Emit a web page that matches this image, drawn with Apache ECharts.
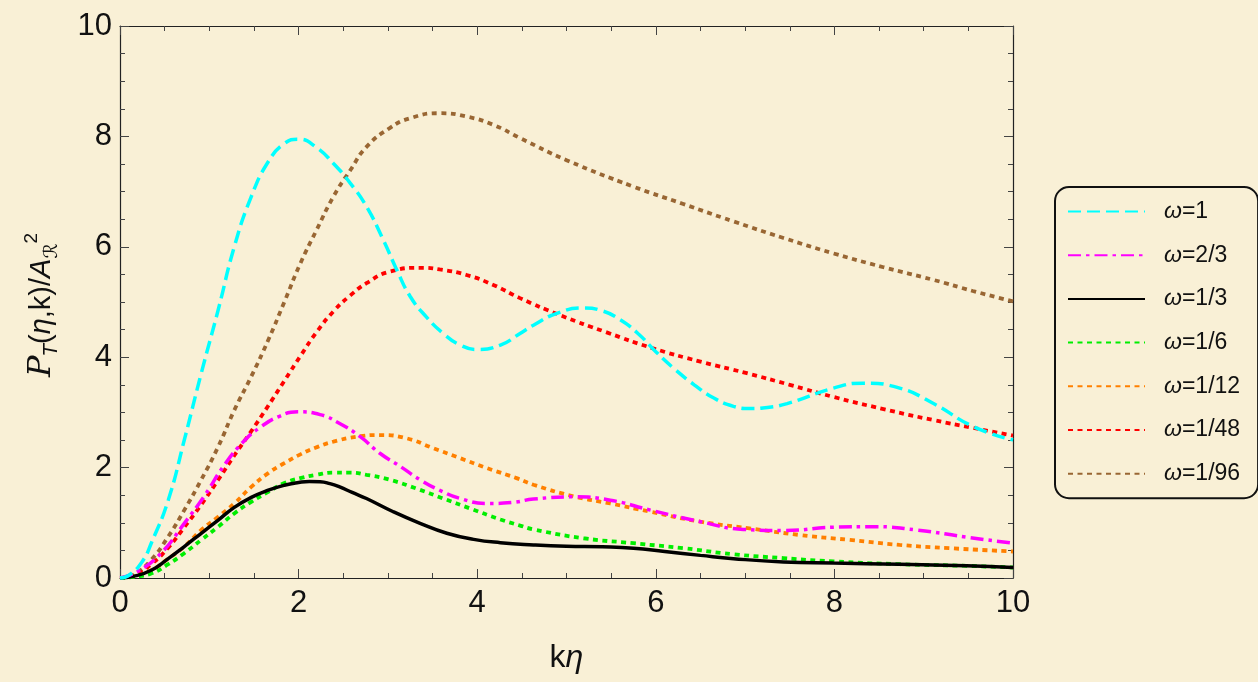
<!DOCTYPE html>
<html>
<head>
<meta charset="utf-8">
<script src="https://cdn.jsdelivr.net/npm/echarts@6/dist/echarts.min.js"></script>
<style>
html,body{margin:0;padding:0;background:#f9f0d6;}
#c{width:1258px;height:682px;}
</style>
</head>
<body>
<div id="c"></div>
<script>
// Series names (legend)
const seriesNames = ['ω=1', 'ω=2/3', 'ω=1/3', 'ω=1/6', 'ω=1/12', 'ω=1/48', 'ω=1/96'];
// Axis ticks
const xTicks = [0, 2, 4, 6, 8, 10];
const yTicks = [0, 2, 4, 6, 8, 10];

// [kη, P_T/A^2]
const omega1 = [[0,0],[0.1,0.05],[0.25,0.3],[0.35,0.63],[0.54,1.41],[0.72,2.5],[0.91,3.71],[1.1,4.86],[1.28,6.0],[1.47,6.91],[1.66,7.54],[1.84,7.87],[2.0,7.95],[2.2,7.8],[2.39,7.51],[2.58,7.15],[2.76,6.73],[2.95,6.12],[3.1,5.58],[3.25,5.1],[3.43,4.73],[3.62,4.43],[3.81,4.22],[4.0,4.14],[4.26,4.22],[4.48,4.43],[4.63,4.58],[4.9,4.8],[5.19,4.89],[5.4,4.84],[5.6,4.68],[5.8,4.43],[6.0,4.1],[6.2,3.8],[6.43,3.5],[6.65,3.26],[6.87,3.11],[7.05,3.07],[7.25,3.09],[7.47,3.16],[7.99,3.44],[8.32,3.53],[8.73,3.44],[9.11,3.16],[9.56,2.74],[10,2.5]];
const omega2_3 = [[0,0],[0.2,0.12],[0.46,0.45],[0.72,0.99],[0.95,1.5],[1.17,2.05],[1.4,2.5],[1.58,2.74],[1.77,2.92],[1.99,3.01],[2.24,2.96],[2.46,2.8],[2.69,2.56],[2.91,2.26],[3.14,2.02],[3.36,1.78],[3.58,1.59],[3.81,1.44],[4.11,1.35],[4.4,1.37],[4.63,1.43],[5.08,1.47],[5.49,1.41],[5.94,1.23],[6.5,1.02],[6.98,0.88],[7.43,0.86],[7.99,0.92],[8.44,0.93],[8.92,0.87],[9.48,0.74],[10,0.63]];
const omega1_3 = [[0,0],[0.15,0.03],[0.35,0.14],[0.54,0.35],[0.72,0.57],[0.91,0.81],[1.1,1.05],[1.28,1.28],[1.47,1.46],[1.66,1.59],[1.84,1.68],[2.0,1.73],[2.12,1.75],[2.24,1.745],[2.35,1.71],[2.46,1.65],[2.6,1.55],[2.76,1.44],[3.06,1.2],[3.36,0.99],[3.66,0.81],[3.96,0.7],[4.26,0.64],[4.63,0.6],[5.0,0.575],[5.4,0.565],[5.75,0.54],[6.1,0.48],[6.5,0.41],[6.87,0.35],[7.43,0.29],[7.99,0.27],[8.73,0.25],[9.48,0.22],[10,0.19]];
const omega1_6 = [[0,0],[0.15,0.02],[0.35,0.08],[0.54,0.25],[0.72,0.45],[0.91,0.69],[1.1,0.93],[1.28,1.17],[1.47,1.38],[1.66,1.56],[1.84,1.72],[2.02,1.81],[2.2,1.87],[2.39,1.91],[2.58,1.91],[2.76,1.87],[3.02,1.78],[3.32,1.62],[3.62,1.44],[3.92,1.26],[4.26,1.06],[4.48,0.95],[4.63,0.88],[5.19,0.72],[5.75,0.63],[6.31,0.54],[6.87,0.43],[7.43,0.36],[7.99,0.3],[8.73,0.25],[9.48,0.22],[10,0.19]];
const omega1_12 = [[0,0],[0.15,0.03],[0.35,0.14],[0.54,0.35],[0.72,0.57],[0.91,0.87],[1.1,1.11],[1.28,1.35],[1.47,1.65],[1.66,1.9],[1.84,2.08],[2.02,2.24],[2.22,2.38],[2.39,2.47],[2.65,2.56],[2.91,2.59],[3.21,2.53],[3.51,2.35],[3.81,2.17],[4.11,1.99],[4.44,1.81],[4.63,1.69],[5.08,1.48],[5.49,1.35],[5.94,1.2],[6.5,1.02],[7.05,0.9],[7.61,0.78],[8.17,0.69],[8.73,0.6],[9.29,0.54],[10,0.48]];
const omega1_48 = [[0,0],[0.15,0.04],[0.35,0.25],[0.54,0.55],[0.72,0.92],[0.91,1.33],[1.1,1.78],[1.28,2.22],[1.47,2.66],[1.66,3.12],[1.84,3.57],[2.02,4.02],[2.2,4.45],[2.39,4.83],[2.58,5.12],[2.76,5.34],[3.02,5.55],[3.36,5.62],[3.58,5.59],[3.88,5.49],[4.18,5.31],[4.48,5.07],[4.93,4.76],[5.45,4.45],[5.97,4.16],[6.5,3.92],[7.02,3.71],[7.5,3.5],[7.99,3.28],[8.55,3.06],[9.11,2.86],[9.55,2.72],[10,2.58]];
const omega1_96 = [[0,0],[0.15,0.06],[0.35,0.33],[0.54,0.75],[0.72,1.23],[0.91,1.78],[1.1,2.38],[1.28,3.04],[1.47,3.65],[1.66,4.31],[1.84,5.0],[2.02,5.7],[2.2,6.3],[2.39,6.91],[2.58,7.39],[2.76,7.81],[3.02,8.15],[3.25,8.33],[3.58,8.42],[3.88,8.36],[4.18,8.21],[4.48,7.97],[5.0,7.57],[5.75,7.09],[6.3,6.78],[6.87,6.46],[7.43,6.16],[7.99,5.88],[8.55,5.63],[9.11,5.4],[9.55,5.2],[10,5.01]];

const seriesData = [omega1, omega2_3, omega1_3, omega1_6, omega1_12, omega1_48, omega1_96];
const colors = ['#00ffff', '#ff00ff', '#000000', '#00ee00', '#ff8000', '#ff0000', '#996633'];
const dashTypes = [[13, 6], [13, 5, 3.5, 5], 'solid', [5, 4.5], [5, 4.5], [5, 4.5], [5, 4.5]];
const widths = [3.5, 3.5, 3.5, 3.8, 3.8, 3.8, 3.8];

const chart = echarts.init(document.getElementById('c'), null, {renderer: 'canvas'});
const font = 'Liberation Sans, Arial, sans-serif';

function mkAxis(pos, showLabels, ticks) {
  return {
    type: 'value', position: pos, min: 0, max: 10, interval: 2,
    axisLine: {show: true, onZero: false, lineStyle: {color: '#222', width: 1.2}},
    axisTick: {show: true, inside: true, length: 9, lineStyle: {color: '#444', width: 1}},
    minorTick: {show: true, splitNumber: 4, length: 5, lineStyle: {color: '#444', width: 1}},
    splitLine: {show: false},
    axisLabel: {show: showLabels, color: '#111', fontSize: 31, fontFamily: font,
      formatter: function (v) { return ticks.indexOf(v) >= 0 ? String(v) : ''; }}
  };
}

const xBottom = mkAxis('bottom', true, xTicks);
xBottom.axisLabel.margin = 10;
xBottom.name = '{n|k}{i|η}';
xBottom.nameLocation = 'middle';
xBottom.nameGap = 64;
xBottom.nameTextStyle = {rich: {
  n: {fontSize: 32, fontFamily: font, color: '#111'},
  i: {fontSize: 32, fontFamily: font, fontStyle: 'italic', color: '#111'}
}};
const xTop = mkAxis('top', false, xTicks);
const yLeft = mkAxis('left', true, yTicks);
yLeft.axisLabel.margin = 8;
const yRight = mkAxis('right', false, yTicks);

const yTitle = '{p|P}{sub|T}{n|(}{i|η}{n|,k)/}{i|A}{sub|ℛ}{sup|2}';

const series = seriesNames.map(function (name, i) {
  return {
    name: name, type: 'line', xAxisIndex: 0, yAxisIndex: 0,
    data: seriesData[i], showSymbol: false, symbol: 'none', smooth: 0.5,
    lineStyle: {color: colors[i], width: widths[i], type: dashTypes[i]},
    itemStyle: {color: colors[i]},
    z: 10 - i,
    animation: false
  };
});

chart.setOption({
  backgroundColor: '#f9f0d6',
  animation: false,
  grid: {left: 120, right: 245, top: 26, bottom: 104, containLabel: false},
  xAxis: [xBottom, xTop],
  yAxis: [yLeft, yRight],
  graphic: [{
    type: 'text', x: 42, y: 305, rotation: Math.PI / 2,
    style: {
      text: yTitle, align: 'center', verticalAlign: 'middle',
      rich: {
        p: {fontSize: 32, fontFamily: 'DejaVu Serif, serif', fontStyle: 'italic', fill: '#111', lineHeight: 40},
        n: {fontSize: 29, fontFamily: font, fill: '#111', lineHeight: 40},
        i: {fontSize: 29, fontFamily: font, fontStyle: 'italic', fill: '#111', lineHeight: 40},
        sub: {fontSize: 19, fontFamily: 'DejaVu Sans, ' + font, fontStyle: 'italic', fill: '#111', verticalAlign: 'bottom', lineHeight: 40},
        sup: {fontSize: 19, fontFamily: font, fill: '#111', verticalAlign: 'top', lineHeight: 40}
      }
    }
  }],
  legend: {
    orient: 'vertical', left: 1055, top: 187,
    padding: [13, 18, 13, 12],
    itemWidth: 77, itemHeight: 14, itemGap: 20.7,
    borderColor: '#111', borderWidth: 2, borderRadius: 14,
    backgroundColor: '#f9f0d6',
    itemStyle: {opacity: 0},
    formatter: function (name) { return '{i|ω}{n|' + name.slice(1) + '}'; },
    textStyle: {fontSize: 23, fontFamily: font, color: '#111', lineHeight: 22, padding: [0, 0, 0, 14],
      rich: {
        i: {fontSize: 23, fontFamily: font, fontStyle: 'italic', color: '#111'},
        n: {fontSize: 23, fontFamily: font, color: '#111'}
      }},
    data: seriesNames
  },
  series: series
});
</script>
</body>
</html>
